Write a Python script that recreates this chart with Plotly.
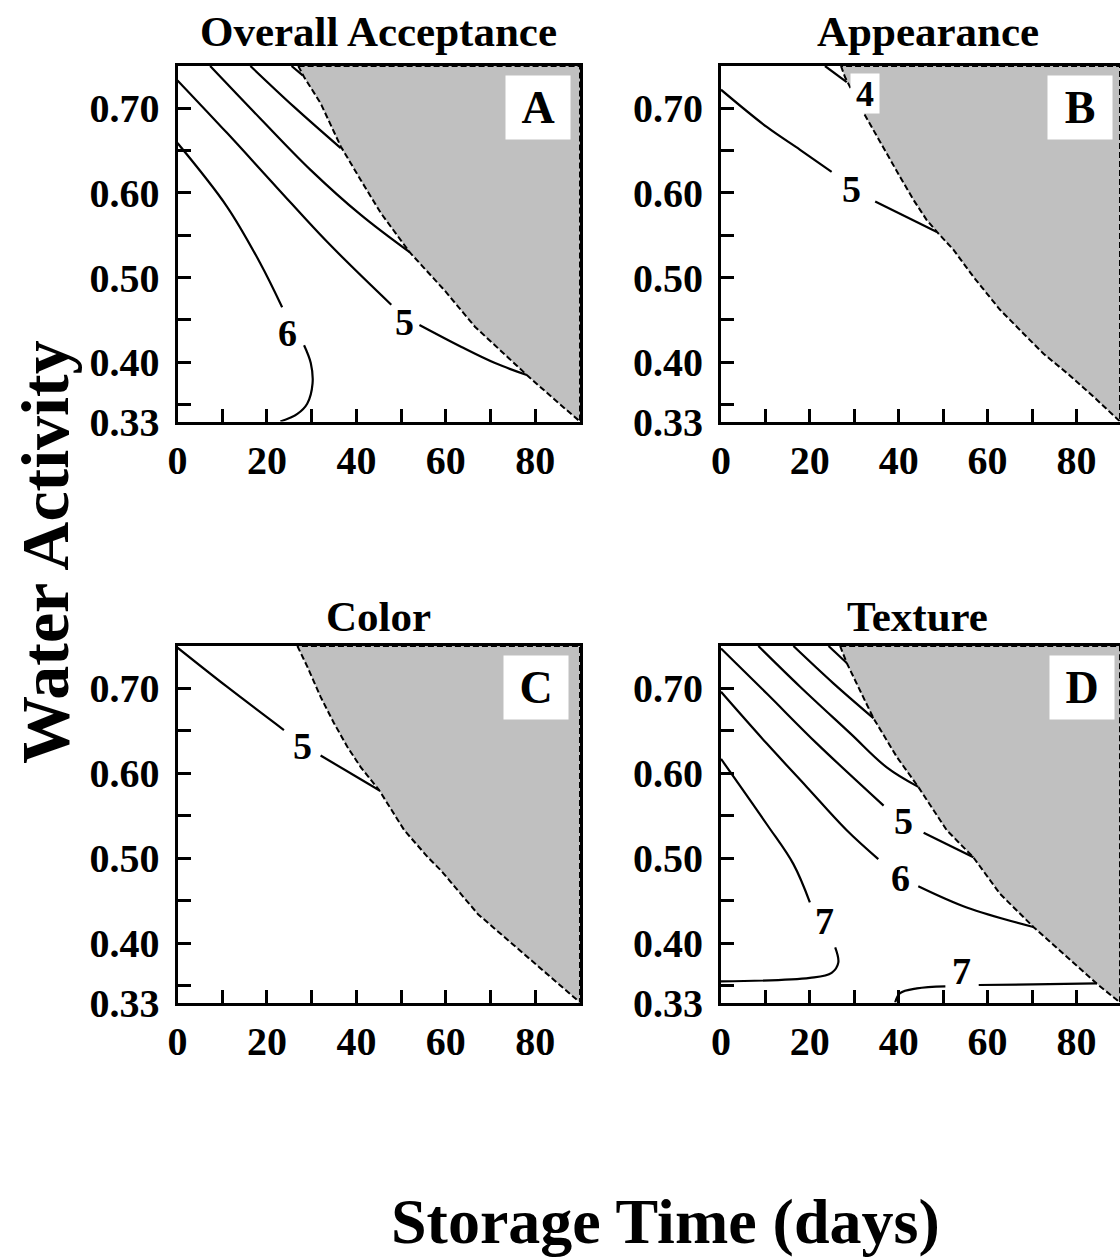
import plotly.graph_objects as go

W, H = 1120, 1257
FONT = "Liberation Serif"

# ---------------- Panel A: Overall Acceptance ----------------
A_bnd_x = [27.0, 28.3, 32.0, 36.5, 41.0, 45.5, 51.9, 59.7, 66.5, 78.1, 84.5, 90.0]
A_bnd_y = [0.750, 0.737, 0.706, 0.655, 0.615, 0.576, 0.530, 0.485, 0.442, 0.385, 0.355, 0.330]
A_c2_x = [25.5, 28.0]
A_c2_y = [0.750, 0.739]
A_c3_x = [16.3, 26.0, 36.5]
A_c3_y = [0.750, 0.702, 0.653]
A_c4_x = [7.3, 18.5, 29.8, 41.0, 51.9]
A_c4_y = [0.750, 0.688, 0.627, 0.574, 0.530]
A_c5_x = [0.0, 11.05, 22.3, 33.5, 47.8, None, 54.1, 63.5, 71.0, 78.1]
A_c5_y = [0.733, 0.671, 0.606, 0.542, 0.468, None, 0.444, 0.418, 0.399, 0.385]
A_c6_x = [0.0, 11.05, 18.5, 23.4, None, 28.3, 29.8, 30.2, 29.0, 26.8, 23.0]
A_c6_y = [0.659, 0.584, 0.517, 0.465, None, 0.420, 0.399, 0.375, 0.351, 0.339, 0.330]
A_lab_x = [24.5, 50.7]
A_lab_y = [0.434, 0.448]
A_lab_t = ["6", "5"]

# ---------------- Panel B: Appearance ----------------
B_bnd_x = [27.0, 27.9, 31.3, 34.3, 37.3, 40.3, 43.3, 46.3, 48.6, 52.3, 56.8, 62.8, 67.3, 72.6, 77.9, 83.9, 89.8]
B_bnd_y = [0.750, 0.737, 0.702, 0.674, 0.647, 0.619, 0.592, 0.568, 0.554, 0.533, 0.501, 0.462, 0.438, 0.410, 0.387, 0.359, 0.330]
B_c4_x = [23.4, 28.3]
B_c4_y = [0.750, 0.731]
B_c5_x = [0.0, 10.3, 17.8, 24.9, None, 34.7, 48.6]
B_c5_y = [0.722, 0.678, 0.651, 0.625, None, 0.590, 0.554]
B_lab_x = [29.4]
B_lab_y = [0.605]
B_lab_t = ["5"]
B_box_x = [32.4]
B_box_y = [0.718]
B_box_t = ["4"]

# ---------------- Panel C: Color ----------------
C_bnd_x = [26.8, 29.0, 32.0, 35.0, 38.0, 41.0, 45.1, 50.7, 56.0, 59.0, 67.2, 72.5, 78.5, 84.5, 90.0]
C_bnd_y = [0.750, 0.726, 0.690, 0.659, 0.631, 0.607, 0.580, 0.533, 0.501, 0.485, 0.434, 0.410, 0.383, 0.355, 0.330]
C_c5_x = [0.0, 11.05, 23.8, None, 32.0, 45.1]
C_c5_y = [0.748, 0.702, 0.651, None, 0.621, 0.580]
C_lab_x = [27.9]
C_lab_y = [0.632]
C_lab_t = ["5"]

# ---------------- Panel D: Texture ----------------
D_bnd_x = [26.8, 28.3, 34.3, 39.6, 44.4, 50.8, 56.8, 62.8, 70.3, 77.9, 84.6, 89.8]
D_bnd_y = [0.750, 0.730, 0.665, 0.619, 0.584, 0.533, 0.501, 0.458, 0.419, 0.383, 0.352, 0.330]
D_c2_x = [24.2, 28.3]
D_c2_y = [0.750, 0.730]
D_c3_x = [16.3, 25.3, 34.3]
D_c3_y = [0.750, 0.706, 0.665]
D_c4_x = [8.4, 17.8, 29.1, 37.3, 44.4]
D_c4_y = [0.750, 0.702, 0.647, 0.607, 0.584]
D_c5_x = [0.0, 10.3, 21.6, 36.6, None, 45.6, 56.8]
D_c5_y = [0.747, 0.694, 0.635, 0.562, None, 0.530, 0.501]
D_c6_x = [0.0, 10.3, 19.3, 28.3, 35.4, None, 44.4, 55.3, 70.3]
D_c6_y = [0.696, 0.635, 0.584, 0.533, 0.499, None, 0.467, 0.442, 0.419]
D_c7a_x = [0.0, 10.3, 16.3, 20.0, None, 25.7, 26.4, 24.9, 20.0, 0.0]
D_c7a_y = [0.617, 0.540, 0.493, 0.448, None, 0.395, 0.377, 0.365, 0.359, 0.355]
D_c7b_x = [39.2, 40.3, 44.1, 50.5, None, 58.0, 70.3, 84.6]
D_c7b_y = [0.330, 0.341, 0.3466, 0.349, None, 0.3506, 0.3513, 0.3526]
D_lab_x = [41.1, 40.3, 23.4, 54.2]
D_lab_y = [0.544, 0.477, 0.426, 0.3667]
D_lab_t = ["5", "6", "7", "7"]

# ---------------- Axes ----------------
X_TICKS = [0, 10, 20, 30, 40, 50, 60, 70, 80]
X_TEXT = ["0", "", "20", "", "40", "", "60", "", "80"]
Y_MIN, Y_MAX = 0.33, 0.75
Y_TICKS = [0.33, 0.35, 0.40, 0.45, 0.50, 0.55, 0.60, 0.65, 0.70]
Y_TEXT = ["0.33", "", "0.40", "", "0.50", "", "0.60", "", "0.70"]

TITLES = ["Overall Acceptance", "Appearance", "Color", "Texture"]
LETTERS = ["A", "B", "C", "D"]
X_LABEL = "Storage Time (days)"
Y_LABEL = "Water Activity"

GRAY = "#c0c0c0"

fig = go.Figure()


def px(x):
    return x / W


def py(y):
    return 1 - y / H


# panel pixel geometry
panels = [
    dict(l=177.5, r=580.0, t=66.0, b=421.5, xmax=90.0, mirror_y=True, title_dx=0, title_dy=-34),
    dict(l=721.0, r=1120.0, t=66.0, b=421.5, xmax=89.8, mirror_y=False, title_dx=7, title_dy=-34),
    dict(l=177.5, r=580.0, t=646.0, b=1002.5, xmax=90.0, mirror_y=True, title_dx=0, title_dy=-30),
    dict(l=721.0, r=1120.0, t=646.0, b=1002.5, xmax=89.8, mirror_y=False, title_dx=-3, title_dy=-30),
]
box_right = [571, 1113, 569, 1115]

data = [
    dict(bx=A_bnd_x, by=A_bnd_y,
         lines=[(A_c2_x, A_c2_y), (A_c3_x, A_c3_y), (A_c4_x, A_c4_y), (A_c5_x, A_c5_y), (A_c6_x, A_c6_y)],
         lx=A_lab_x, ly=A_lab_y, lt=A_lab_t),
    dict(bx=B_bnd_x, by=B_bnd_y,
         lines=[(B_c4_x, B_c4_y), (B_c5_x, B_c5_y)],
         lx=B_lab_x, ly=B_lab_y, lt=B_lab_t),
    dict(bx=C_bnd_x, by=C_bnd_y,
         lines=[(C_c5_x, C_c5_y)],
         lx=C_lab_x, ly=C_lab_y, lt=C_lab_t),
    dict(bx=D_bnd_x, by=D_bnd_y,
         lines=[(D_c2_x, D_c2_y), (D_c3_x, D_c3_y), (D_c4_x, D_c4_y), (D_c5_x, D_c5_y),
                (D_c6_x, D_c6_y), (D_c7a_x, D_c7a_y), (D_c7b_x, D_c7b_y)],
         lx=D_lab_x, ly=D_lab_y, lt=D_lab_t),
]

annotations = []
tickfont = dict(family=FONT, size=40, color="black", weight="bold")

for i, (p, d) in enumerate(zip(panels, data)):
    n = "" if i == 0 else str(i + 1)
    xref, yref = "x" + n, "y" + n
    xmax = p["xmax"]
    poly_x = list(d["bx"]) + [xmax, d["bx"][0]]
    poly_y = list(d["by"]) + [Y_MAX, Y_MAX]
    fig.add_trace(go.Scatter(x=poly_x, y=poly_y, fill="toself", fillcolor=GRAY,
                             line=dict(width=0), mode="lines", hoverinfo="skip",
                             showlegend=False, xaxis=xref, yaxis=yref))
    for lx_, ly_ in d["lines"]:
        fig.add_trace(go.Scatter(x=lx_, y=ly_, mode="lines",
                                 line=dict(color="black", width=2.2, shape="spline", smoothing=1.0),
                                 connectgaps=False, hoverinfo="skip", showlegend=False,
                                 xaxis=xref, yaxis=yref))
    fig.add_trace(go.Scatter(x=poly_x + [d["bx"][0]], y=poly_y + [d["by"][0]], mode="lines",
                             line=dict(color="black", width=2, dash="6px,3px"),
                             hoverinfo="skip", showlegend=False, xaxis=xref, yaxis=yref))
    for tx, ty, tt in zip(d["lx"], d["ly"], d["lt"]):
        annotations.append(dict(x=tx, y=ty, xref=xref, yref=yref, text=tt, showarrow=False,
                                font=dict(family=FONT, size=38, color="black", weight="bold")))

    fig.layout["xaxis" + n] = dict(
        domain=[px(p["l"]), px(p["r"])], range=[0, xmax], anchor=yref, automargin=False,
        tickmode="array", tickvals=X_TICKS, ticktext=X_TEXT,
        ticks="inside", ticklen=13, tickwidth=3, tickcolor="black",
        showline=True, linewidth=3, linecolor="black", mirror=True,
        showgrid=False, zeroline=False, tickfont=tickfont, ticklabelstandoff=1,
        fixedrange=True)
    fig.layout["yaxis" + n] = dict(
        domain=[py(p["b"]), py(p["t"])], range=[Y_MIN, Y_MAX], anchor=xref, automargin=False,
        tickmode="array", tickvals=Y_TICKS, ticktext=Y_TEXT,
        ticks="inside", ticklen=13, tickwidth=3, tickcolor="black",
        showline=True, linewidth=3, linecolor="black", mirror=p["mirror_y"],
        showgrid=False, zeroline=False, tickfont=tickfont, ticklabelstandoff=7,
        fixedrange=True)

    annotations.append(dict(x=px((p["l"] + p["r"]) / 2 + p["title_dx"]),
                            y=py(p["t"] + p["title_dy"]), xref="paper", yref="paper",
                            text=TITLES[i], showarrow=False, xanchor="center", yanchor="middle",
                            font=dict(family=FONT, size=43, color="black", weight="bold")))
    annotations.append(dict(x=px(box_right[i]), y=py(p["t"] + 9), xref="paper", yref="paper",
                            text=LETTERS[i], showarrow=False, xanchor="right", yanchor="top",
                            width=62, height=61, bgcolor="white", valign="middle",
                            font=dict(family=FONT, size=46, color="black", weight="bold")))

for tx, ty, tt in zip(B_box_x, B_box_y, B_box_t):
    annotations.append(dict(x=tx, y=ty, xref="x2", yref="y2", text=tt, showarrow=False,
                            bgcolor="white", width=26, height=37,
                            font=dict(family=FONT, size=36, color="black", weight="bold")))

annotations.append(dict(x=px(45), y=py(552), xref="paper", yref="paper", text=Y_LABEL,
                        textangle=-90, showarrow=False, xanchor="center", yanchor="middle",
                        font=dict(family=FONT, size=68, color="black", weight="bold")))
annotations.append(dict(x=px(665), y=py(1221), xref="paper", yref="paper", text=X_LABEL,
                        showarrow=False, xanchor="center", yanchor="middle",
                        font=dict(family=FONT, size=64, color="black", weight="bold")))

fig.update_layout(template="none", width=W, height=H, margin=dict(l=0, r=0, t=0, b=0, pad=0),
                  paper_bgcolor="white", plot_bgcolor="white",
                  annotations=annotations, showlegend=False)

fig.write_html("out.html", config={"displayModeBar": False})
